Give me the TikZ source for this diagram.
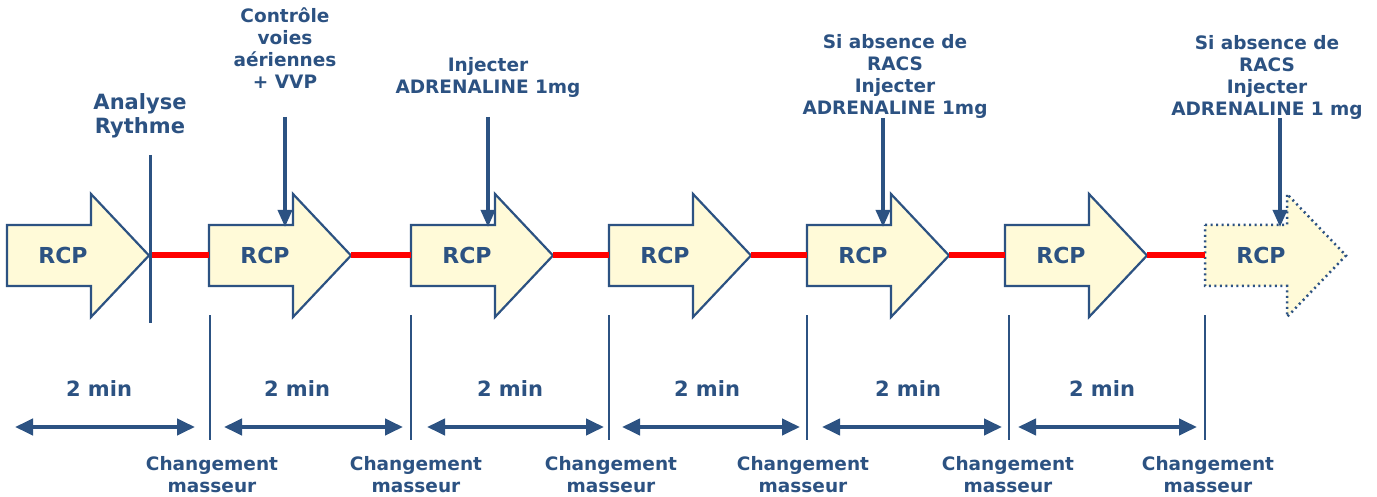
\documentclass[tikz,border=0pt]{standalone}
\usepackage{fontspec}
\setmainfont{DejaVu Sans}
\usetikzlibrary{arrows.meta}
\definecolor{navy}{RGB}{44,82,130}
\definecolor{pale}{RGB}{255,250,216}
\begin{document}
\begin{tikzpicture}[x=1pt,y=-1pt,
  rcpshape/.style={draw=navy,fill=pale,line width=2.2pt,line join=miter},
  rcplabel/.style={text=navy,font=\bfseries\fontsize{22}{24}\selectfont,inner sep=0pt},
  small/.style={text=navy,font=\bfseries\fontsize{18.5}{22}\selectfont,align=center,inner sep=0pt},
  big/.style={text=navy,font=\bfseries\fontsize{21}{24}\selectfont,align=center,inner sep=0pt},
  redline/.style={draw=red,line width=6pt},
  sep/.style={draw=navy,line width=2pt},
  down/.style={draw=navy,line width=3.5pt,-{Triangle[length=17pt,width=14pt]}},
  span/.style={draw=navy,line width=4pt,{Triangle[length=18pt,width=16pt]}-{Triangle[length=18pt,width=16pt]}}]
\useasboundingbox (0,0) rectangle (1377,497);
\fill[white] (0,0) rectangle (1377,497);
% RCP arrows
\foreach \i/\x in {1/7,2/209,3/411,4/609,5/807,6/1005}{
  \draw[rcpshape] (\x,225) -- ({\x+84},225) -- ({\x+84},194) -- ({\x+142},255.5) -- ({\x+84},317) -- ({\x+84},286) -- (\x,286) -- cycle;
  \node[rcplabel] (r\i) at ({\x+56},255.5) {RCP};
  \coordinate (t\i) at ({\x+142},255.5);
  \coordinate (l\i) at (\x,255.5);
}
\draw[rcpshape,line width=2.5pt,dash pattern=on 2pt off 3.5pt] (1205,225) -- (1287,225) -- (1287,194) -- (1346,255.5) -- (1287,317) -- (1287,286) -- (1205,286) -- cycle;
\node[rcplabel] (r7) at (1261,255.5) {RCP};
\coordinate (l7) at (1205,255.5);
% red links
\foreach \a/\b in {1/2,2/3,3/4,4/5,5/6,6/7}{
  \draw[redline] (t\a) -- (l\b);
}
% analyse rythme line
\coordinate (ar1) at (150,155);
\coordinate (ar2) at (150,323);
\draw[draw=navy,line width=3pt] (ar1) -- (ar2);
\node[big] (ar) at (140,116) {Analyse\\Rythme};
% top labels and arrows
\node[small] (c1) at (285,48) {Contrôle\\voies\\aériennes\\+ VVP};
\coordinate (c1a) at (285,117); \coordinate (c1b) at (285,227);
\draw[down] (c1a) -- (c1b);
\node[small] (c2) at (488,77) {Injecter\\ADRENALINE 1mg};
\coordinate (c2a) at (488,117); \coordinate (c2b) at (488,227);
\draw[down] (c2a) -- (c2b);
\node[small] (c3) at (895,76) {Si absence de\\RACS\\Injecter\\ADRENALINE 1mg};
\coordinate (c3a) at (883,118); \coordinate (c3b) at (883,227);
\draw[down] (c3a) -- (c3b);
\node[small] (c4) at (1267,77) {Si absence de\\RACS\\Injecter\\ADRENALINE 1 mg};
\coordinate (c4a) at (1280,118); \coordinate (c4b) at (1280,227);
\draw[down] (c4a) -- (c4b);
% separators
\foreach \i/\x in {1/210,2/411,3/609,4/807,5/1009,6/1205}{
  \coordinate (s\i a) at (\x,315);
  \coordinate (s\i b) at (\x,440);
  \draw[sep] (s\i a) -- (s\i b);
}
% spans
\foreach \i/\a/\b/\m in {1/15/195/99,2/224/403/297,3/427/604/510,4/622/800/707,5/822/1002/908,6/1018/1197/1102}{
  \coordinate (p\i a) at (\a,427);
  \coordinate (p\i b) at (\b,427);
  \draw[span] (p\i a) -- (p\i b);
  \node[big] (m\i) at (\m,389) {2 min};
}
% changement masseur
\foreach \i/\x in {1/212,2/416,3/611,4/803,5/1008,6/1208}{
  \node[small] (cm\i) at (\x,475) {Changement\\masseur};
}
\end{tikzpicture}
\end{document}
